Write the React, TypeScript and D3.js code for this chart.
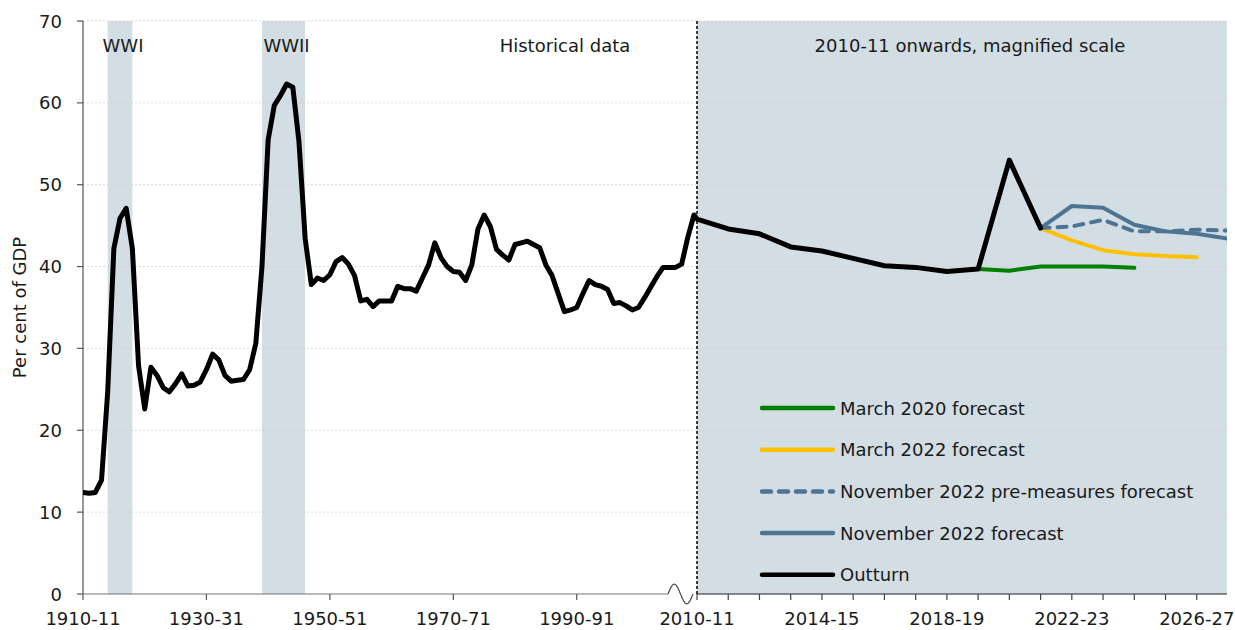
import React from "react";
import * as d3 from "d3";

// historical series, one value per financial year starting 1910-11
const histStartYear = 1910;
const histValues = [
  12.4, 12.3, 12.4, 13.9, 24.7, 42.2, 45.9, 47.1, 42.2, 27.9,
  22.6, 27.7, 26.7, 25.2, 24.7, 25.7, 26.9, 25.4, 25.5, 25.9,
  27.4, 29.3, 28.6, 26.7, 26.0, 26.1, 26.2, 27.4, 30.6, 40.0,
  55.5, 59.7, 60.9, 62.3, 61.9, 55.2, 43.4, 37.8, 38.6, 38.3,
  39.0, 40.6, 41.1, 40.3, 38.9, 35.8, 36.0, 35.1, 35.8, 35.8,
  35.8, 37.6, 37.3, 37.3, 37.0, 38.6, 40.2, 42.9, 41.1, 40.0,
  39.4, 39.3, 38.3, 40.2, 44.6, 46.3, 44.9, 42.1, 41.4, 40.8,
  42.7, 42.9, 43.1, 42.7, 42.3, 40.2, 38.9, 36.7, 34.5, 34.7,
  35.0, 36.7, 38.3, 37.8, 37.6, 37.2, 35.5, 35.6, 35.2, 34.7,
  35.0, 36.2, 37.5, 38.8, 39.9, 39.9, 39.9, 40.3, 43.6, 46.3,
];

// magnified section
const outturnYears = [2010, 2011, 2012, 2013, 2014, 2015, 2016, 2017, 2018, 2019, 2020, 2021];
const outturnValues = [45.8, 44.6, 44.0, 42.4, 41.9, 41.0, 40.1, 39.9, 39.4, 39.7, 53.0, 44.7];

const march2020Years = [2019, 2020, 2021, 2022, 2023, 2024];
const march2020Values = [39.7, 39.5, 40.0, 40.0, 40.0, 39.85];

const march2022Years = [2021, 2022, 2023, 2024, 2025, 2026];
const march2022Values = [44.7, 43.2, 42.0, 41.5, 41.3, 41.15];

const novPreYears = [2021, 2022, 2023, 2024, 2025, 2026, 2027];
const novPreValues = [44.7, 44.9, 45.7, 44.3, 44.3, 44.5, 44.4];

const nov2022Years = [2021, 2022, 2023, 2024, 2025, 2026, 2027];
const nov2022Values = [44.7, 47.4, 47.2, 45.1, 44.3, 44.0, 43.4];

const yTicks = [0, 10, 20, 30, 40, 50, 60, 70];
const histTickYears = [1910, 1930, 1950, 1970, 1990];
const magTickYears = [2010, 2011, 2012, 2013, 2014, 2015, 2016, 2017, 2018, 2019, 2020, 2021, 2022, 2023, 2024, 2025, 2026];
const magLabelYears = [2010, 2014, 2018, 2022, 2026];

const wars = [
  { label: "WWI", from: 1914, to: 1918 },
  { label: "WWII", from: 1939, to: 1946 },
];

const legendItems = [
  { label: "March 2020 forecast", color: "#008000", dash: null },
  { label: "March 2022 forecast", color: "#FFC000", dash: null },
  { label: "November 2022 pre-measures forecast", color: "#4D7493", dash: "9,8" },
  { label: "November 2022 forecast", color: "#4D7493", dash: null },
  { label: "Outturn", color: "#000000", dash: null },
];

const fy = (y: number) => `${y}-${String((y + 1) % 100).padStart(2, "0")}`;

const FONT = "'DejaVu Sans', sans-serif";
const FS = 18;
const SHADE = "#D3DDE4";
const TEXT = "#1a1a1a";

const App = () => {
  const width = 1235;
  const height = 630;
  const left = 83;
  const right = 1227;
  const top = 21;
  const bottom = 594;
  const splitX = 697;
  const breakStart = 668;

  const y = d3.scaleLinear().domain([0, 70]).range([bottom, top]);
  const xHist = d3.scaleLinear().domain([1910, 2009]).range([left, 694]);
  const xMag = d3.scaleLinear().domain([2010, 2027]).range([splitX, 1228]);

  const line = d3
    .line<[number, number]>()
    .x((d) => d[0])
    .y((d) => d[1]);

  const histPts: [number, number][] = histValues.map((v, i) => [
    xHist(histStartYear + i),
    y(v),
  ]);
  const magPts = (years: number[], vals: number[]): [number, number][] =>
    years.map((yr, i) => [xMag(yr), y(vals[i])]);

  const outturnPath = line([...histPts, ...magPts(outturnYears, outturnValues)]);

  // axis break squiggle
  const squiggle = d3
    .line<number>()
    .x((t) => breakStart + t * 25)
    .y((t) => bottom - 10 * Math.sin(2 * Math.PI * t))
    .curve(d3.curveBasis)(d3.range(0, 1.0001, 0.05));

  const legendX = 762;
  const legendY0 = 408;
  const legendStep = 41.7;

  return (
    <svg
      width={width}
      height={height}
      style={{ position: "absolute", left: 0, top: 0, background: "#fff" }}
      fontFamily={FONT}
    >
      <defs>
        <clipPath id="plot-clip">
          <rect x={left} y={top - 10} width={right - left} height={bottom - top + 20} />
        </clipPath>
      </defs>

      {/* war shading */}
      {wars.map((w) => (
        <rect
          key={w.label}
          x={xHist(w.from)}
          y={top}
          width={xHist(w.to) - xHist(w.from)}
          height={bottom - top}
          fill={SHADE}
        />
      ))}
      {/* magnified region */}
      <rect x={splitX} y={top} width={right - splitX} height={bottom - top} fill={SHADE} />

      {/* gridlines */}
      {yTicks.slice(1).map((t) => (
        <line
          key={t}
          x1={left}
          x2={right}
          y1={y(t)}
          y2={y(t)}
          stroke="#cfcfcf"
          strokeWidth={0.8}
          strokeDasharray="2,2"
        />
      ))}

      {/* labels */}
      {wars.map((w) => (
        <text
          key={w.label}
          x={xHist((w.from + w.to) / 2) + 3}
          y={52}
          fontSize={FS}
          textAnchor="middle"
          fill={TEXT}
        >
          {w.label}
        </text>
      ))}
      <text x={565} y={52} fontSize={FS} textAnchor="middle" fill={TEXT}>
        Historical data
      </text>
      <text x={970} y={52} fontSize={FS} textAnchor="middle" fill={TEXT}>
        2010-11 onwards, magnified scale
      </text>

      {/* divider */}
      <line
        x1={splitX}
        x2={splitX}
        y1={top}
        y2={bottom}
        stroke="#000"
        strokeWidth={1.5}
        strokeDasharray="3,2"
      />

      {/* y axis */}
      <line x1={left} x2={left} y1={top} y2={bottom} stroke="#555" strokeWidth={1.2} />
      {yTicks.map((t) => (
        <g key={t}>
          <line x1={left - 6} x2={left} y1={y(t)} y2={y(t)} stroke="#555" strokeWidth={1.2} />
          <text x={62} y={y(t) + 6.5} fontSize={FS} textAnchor="end" fill={TEXT}>
            {t}
          </text>
        </g>
      ))}
      <text
        transform={`translate(26, ${(top + bottom) / 2}) rotate(-90)`}
        fontSize={FS}
        textAnchor="middle"
        fill={TEXT}
      >
        Per cent of GDP
      </text>

      {/* x axis: historical part */}
      <line x1={left} x2={breakStart} y1={bottom} y2={bottom} stroke="#777" strokeWidth={1.2} />
      <path d={squiggle || ""} fill="none" stroke="#444" strokeWidth={1.2} />
      {histTickYears.map((yr) => (
        <g key={yr}>
          <line x1={xHist(yr)} x2={xHist(yr)} y1={bottom} y2={bottom + 6} stroke="#555" strokeWidth={1.2} />
          <text x={xHist(yr)} y={625} fontSize={FS} textAnchor="middle" fill={TEXT}>
            {fy(yr)}
          </text>
        </g>
      ))}

      {/* x axis: magnified part */}
      <line x1={splitX} x2={right} y1={bottom} y2={bottom} stroke="#222" strokeWidth={1.2} />
      {magTickYears.map((yr) => (
        <line key={yr} x1={xMag(yr)} x2={xMag(yr)} y1={bottom} y2={bottom + 6} stroke="#444" strokeWidth={1.2} />
      ))}
      {magLabelYears.map((yr) => (
        <text key={yr} x={xMag(yr)} y={625} fontSize={FS} textAnchor="middle" fill={TEXT}>
          {fy(yr)}
        </text>
      ))}

      {/* series */}
      <g clipPath="url(#plot-clip)" fill="none" strokeLinejoin="round" strokeLinecap="round">
        <path d={line(magPts(march2020Years, march2020Values)) || ""} stroke="#008000" strokeWidth={4} />
        <path d={line(magPts(march2022Years, march2022Values)) || ""} stroke="#FFC000" strokeWidth={4} />
        <path
          d={line(magPts(novPreYears, novPreValues)) || ""}
          stroke="#4D7493"
          strokeWidth={4}
          strokeDasharray="9,8"
        />
        <path d={line(magPts(nov2022Years, nov2022Values)) || ""} stroke="#4D7493" strokeWidth={4} />
        <path d={outturnPath || ""} stroke="#000" strokeWidth={5} />
      </g>

      {/* legend */}
      {legendItems.map((item, i) => {
        const ly = legendY0 + i * legendStep;
        return (
          <g key={item.label}>
            <line
              x1={legendX}
              x2={833}
              y1={ly}
              y2={ly}
              stroke={item.color}
              strokeWidth={4.5}
              strokeLinecap="round"
              strokeDasharray={item.dash || undefined}
            />
            <text x={840} y={ly + 6.5} fontSize={FS} fill={TEXT}>
              {item.label}
            </text>
          </g>
        );
      })}
    </svg>
  );
};

export default App;
